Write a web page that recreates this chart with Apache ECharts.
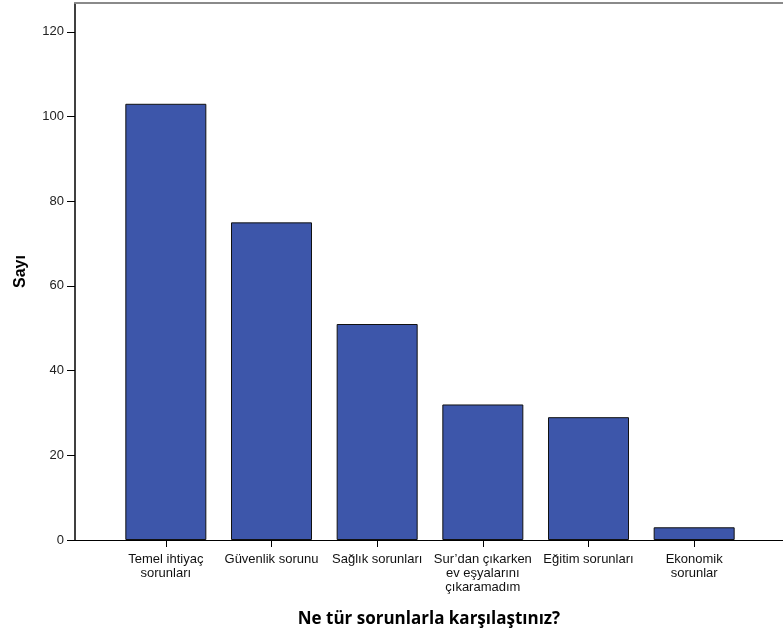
<!DOCTYPE html>
<html><head><meta charset="utf-8">
<script src="https://cdn.jsdelivr.net/npm/echarts@6/dist/echarts.min.js"></script>
<style>html,body{margin:0;padding:0;background:#fff}#c{width:783px;height:633px}</style>
</head><body><div id="c"></div>
<script>
const categories = ["Temel ihtiyaç\nsorunları", "Güvenlik sorunu", "Sağlık sorunları", "Sur’dan çıkarken\nev eşyalarını\nçıkaramadım", "Eğitim sorunları", "Ekonomik\nsorunlar"];
const counts = [103, 75, 51, 32, 29, 3];
const yTicks = [0, 20, 40, 60, 80, 100, 120];
const xTitle = "Ne tür sorunlarla karşılaştınız?";
const yTitle = "Sayı";

const font = "Liberation Sans, Arial, sans-serif";
const yMax = 126.8;
const chart = echarts.init(document.getElementById('c'), null, {renderer: 'canvas'});
chart.setOption({
  animation: false,
  backgroundColor: '#fff',
  grid: [
    {left: 75, right: 0, top: 3, bottom: 93},
    {left: 113, right: 36, top: 3, bottom: 93}
  ],
  xAxis: [
    {gridIndex: 0, type: 'value', min: 0, max: 1, position: 'bottom',
     axisLine: {show: true, lineStyle: {color: '#000', width: 1}},
     axisTick: {show: false}, axisLabel: {show: false}, splitLine: {show: false},
     name: xTitle, nameLocation: 'middle', nameGap: 71,
     nameTextStyle: {fontFamily: "Open Sans, sans-serif", fontSize: 17, fontWeight: 'bold', color: '#000'}},
    {gridIndex: 0, type: 'value', min: 0, max: 1, position: 'top',
     axisLine: {show: true, lineStyle: {color: '#8a8a8a', width: 2}},
     axisTick: {show: false}, axisLabel: {show: false}, splitLine: {show: false}},
    {gridIndex: 1, type: 'category', data: categories, position: 'bottom',
     axisLine: {show: false},
     axisTick: {show: true, alignWithLabel: true, length: 7, lineStyle: {color: '#000'}},
     axisLabel: {fontFamily: font, fontSize: 13, color: '#111', margin: 12, lineHeight: 14, interval: 0}}
  ],
  yAxis: [
    {gridIndex: 0, type: 'value', min: 0, max: yMax, interval: 20,
     axisLine: {show: true, lineStyle: {color: '#000', width: 1.5}},
     axisTick: {show: true, length: 8, lineStyle: {color: '#000'}, customValues: yTicks},
     axisLabel: {fontFamily: font, fontSize: 13, color: '#222', margin: 11, customValues: yTicks},
     splitLine: {show: false},
     name: yTitle, nameLocation: 'middle', nameGap: 46, nameRotate: 90,
     nameTextStyle: {fontFamily: font, fontSize: 16, fontWeight: 'bold', color: '#000'}},
    {gridIndex: 1, type: 'value', min: 0, max: yMax, show: false}
  ],
  series: [{
    type: 'bar', xAxisIndex: 2, yAxisIndex: 1, data: counts, barWidth: 81,
    itemStyle: {color: '#3D56AA', borderColor: '#111', borderWidth: 1}
  }]
});
</script></body></html>
